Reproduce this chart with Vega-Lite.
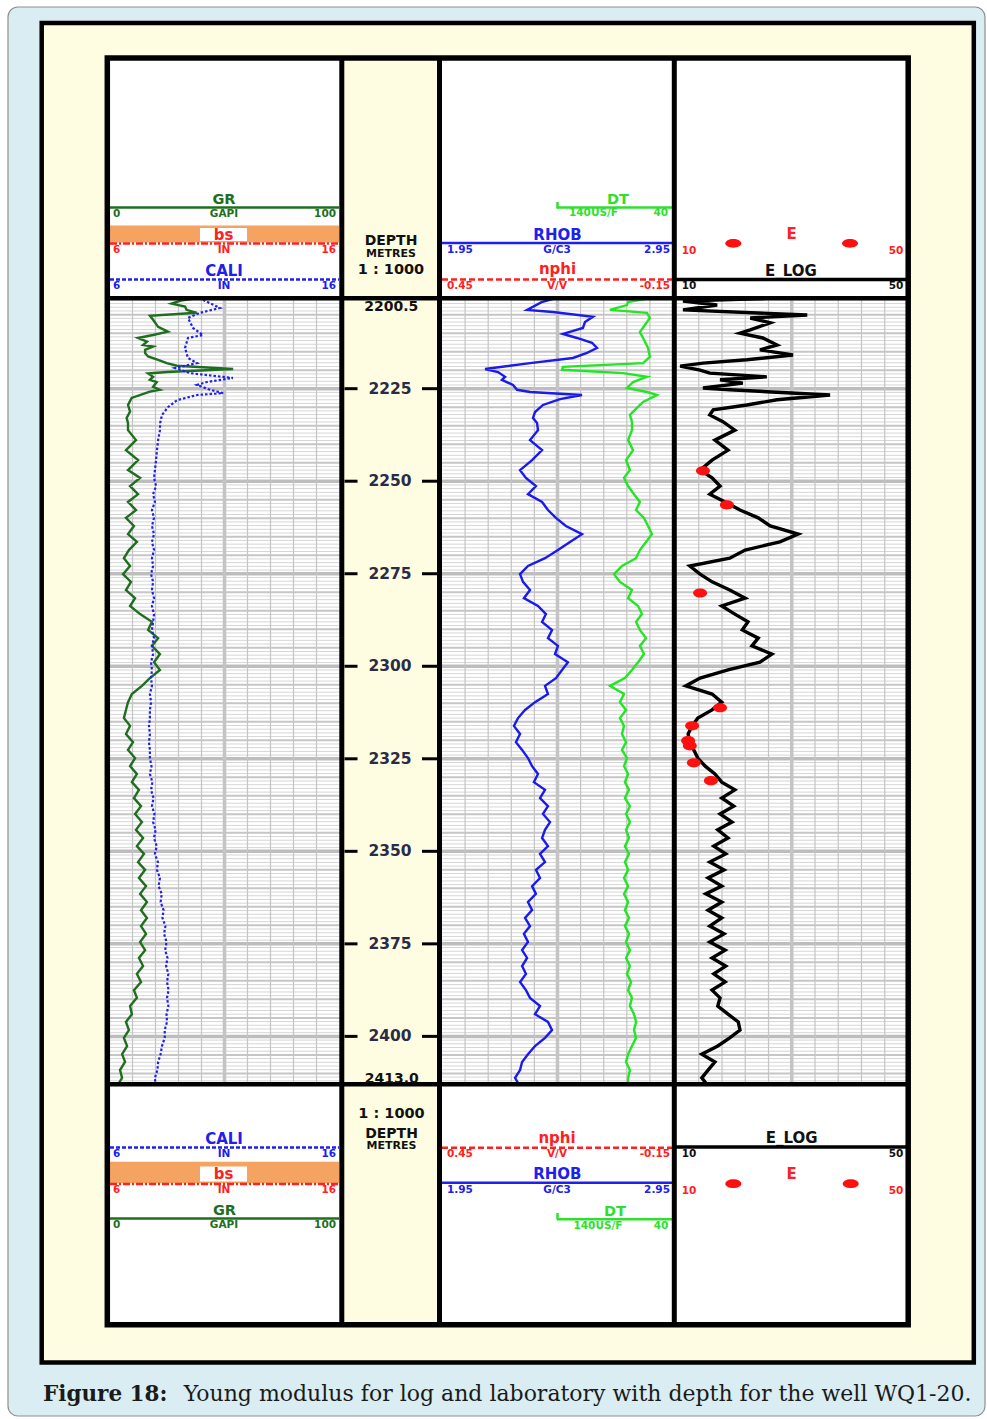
{
"$schema": "https://vega.github.io/schema/vega-lite/v6.json",
"width": 987, "height": 1419, "padding": 0, "autosize": {"type": "none"},
"background": "white",
"config": {
  "view": {"stroke": null},
  "axis": {"disable": true},
  "style": {
    "t13": {"font": "DejaVu Sans", "fontWeight": "bold", "fontSize": 14.5, "align": "center", "baseline": "alphabetic"},
    "s9": {"font": "DejaVu Sans", "fontWeight": "bold", "fontSize": 10.5, "align": "center", "baseline": "alphabetic"}
  }
},
"data": {"values": [{}]},
"datasets": {
  "d1": [2201,2202,2203,2204,2205,2206,2207,2208,2209,2210,2211,2212,2213,2214,2215,2216,2217,2218,2219,2220,2221,2222,2223,2224,2225,2226,2227,2228,2229,2230,2231,2232,2233,2234,2235,2236,2237,2238,2239,2240,2241,2242,2243,2244,2245,2246,2247,2248,2249,2250,2251,2252,2253,2254,2255,2256,2257,2258,2259,2260,2261,2262,2263,2264,2265,2266,2267,2268,2269,2270,2271,2272,2273,2274,2275,2276,2277,2278,2279,2280,2281,2282,2283,2284,2285,2286,2287,2288,2289,2290,2291,2292,2293,2294,2295,2296,2297,2298,2299,2300,2301,2302,2303,2304,2305,2306,2307,2308,2309,2310,2311,2312,2313,2314,2315,2316,2317,2318,2319,2320,2321,2322,2323,2324,2325,2326,2327,2328,2329,2330,2331,2332,2333,2334,2335,2336,2337,2338,2339,2340,2341,2342,2343,2344,2345,2346,2347,2348,2349,2350,2351,2352,2353,2354,2355,2356,2357,2358,2359,2360,2361,2362,2363,2364,2365,2366,2367,2368,2369,2370,2371,2372,2373,2374,2375,2376,2377,2378,2379,2380,2381,2382,2383,2384,2385,2386,2387,2388,2389,2390,2391,2392,2393,2394,2395,2396,2397,2398,2399,2400,2401,2402,2403,2404,2405,2406,2407,2408,2409,2410,2411,2412],
  "k": [1,2,3,4,5,6,7,8,9],
  "ticks": [2225,2250,2275,2300,2325,2350,2375,2400],
  "gr": [
    {"d":2200.6,"v":38},{"d":2201.2,"v":31},{"d":2202.0,"v":27},{"d":2202.8,"v":32.9},{"d":2203.7,"v":33.6},{"d":2204.5,"v":38},{"d":2205.3,"v":17.5},{"d":2206.4,"v":18.9},{"d":2208.3,"v":21.1},{"d":2209.6,"v":25.4},{"d":2210.5,"v":18.9},{"d":2211.3,"v":12.3},{"d":2212.3,"v":16.2},{"d":2213.2,"v":14.5},{"d":2213.6,"v":18.9},{"d":2214.5,"v":15.4},{"d":2215.4,"v":15.4},{"d":2216.3,"v":16.7},{"d":2217.2,"v":21.1},{"d":2218.1,"v":24.9},{"d":2218.8,"v":29.3},{"d":2219.7,"v":54},{"d":2220.5,"v":25},{"d":2220.9,"v":16.7},{"d":2221.8,"v":18.9},{"d":2222.6,"v":17.5},{"d":2223.2,"v":20.5},{"d":2224.5,"v":18.9},{"d":2225.3,"v":21.9},{"d":2225.8,"v":17.5},{"d":2227.5,"v":9.5},{"d":2229.4,"v":7.9},{"d":2231.2,"v":8.8},{"d":2232.9,"v":7.3},{"d":2234.3,"v":7.9},
    {"d":2236.2,"v":7.9},{"d":2238.9,"v":11.4},{"d":2241.6,"v":7.0},{"d":2244.3,"v":12.3},{"d":2247.0,"v":7.9},{"d":2249.1,"v":13.2},{"d":2251.3,"v":8.8},{"d":2253.5,"v":12.3},{"d":2255.6,"v":7.9},{"d":2257.8,"v":11.4},{"d":2259.9,"v":7.0},{"d":2262.1,"v":10.5},{"d":2264.3,"v":7.9},{"d":2266.4,"v":11.8},{"d":2268.6,"v":8.3},{"d":2270.8,"v":6.1},{"d":2272.9,"v":8.8},{"d":2275.1,"v":5.7},{"d":2277.2,"v":9.2},{"d":2279.4,"v":7.0},{"d":2281.6,"v":11.0},{"d":2283.7,"v":8.8},{"d":2285.9,"v":13.2},{"d":2288.0,"v":18.4},{"d":2290.2,"v":16.7},{"d":2292.4,"v":21.1},{"d":2294.5,"v":18.4},{"d":2296.7,"v":21.9},{"d":2298.9,"v":19.3},{"d":2301.0,"v":21.9},{"d":2303.2,"v":17.5},{"d":2305.3,"v":14.0},{"d":2307.5,"v":9.6},{"d":2309.7,"v":7.9},{"d":2311.8,"v":7.0},{"d":2314.0,"v":6.1},{"d":2316.1,"v":8.8},{"d":2318.3,"v":7.0},{"d":2320.5,"v":10.1},{"d":2322.6,"v":7.9},{"d":2324.8,"v":11.0},{"d":2327.0,"v":8.8},{"d":2329.1,"v":11.8},{"d":2331.3,"v":9.6},{"d":2333.4,"v":12.7},{"d":2335.6,"v":10.5},{"d":2337.8,"v":13.6},{"d":2339.9,"v":11.0},{"d":2342.1,"v":14.0},{"d":2344.2,"v":11.4},{"d":2346.4,"v":14.5},{"d":2348.6,"v":11.8},{"d":2350.7,"v":14.9},{"d":2352.9,"v":12.3},{"d":2355.0,"v":15.4},{"d":2357.2,"v":12.7},{"d":2359.4,"v":15.8},{"d":2361.5,"v":13.2},{"d":2363.7,"v":16.2},{"d":2365.9,"v":13.6},{"d":2368.0,"v":16.2},{"d":2370.2,"v":13.6},{"d":2372.3,"v":15.8},{"d":2374.5,"v":13.2},{"d":2376.7,"v":15.4},{"d":2378.8,"v":12.7},{"d":2381.0,"v":14.5},{"d":2383.1,"v":11.8},{"d":2385.3,"v":13.6},{"d":2387.5,"v":10.5},{"d":2389.6,"v":11.8},{"d":2391.8,"v":8.8},{"d":2394.0,"v":9.6},{"d":2396.1,"v":7.0},{"d":2398.3,"v":8.3},{"d":2400.4,"v":6.1},{"d":2402.6,"v":7.5},{"d":2404.8,"v":5.3},{"d":2406.9,"v":6.6},{"d":2409.1,"v":4.4},{"d":2411.2,"v":5.3},{"d":2412.6,"v":3.9}
  ],
  "cali": [
    {"d":2201.0,"v":10.08},{"d":2203.2,"v":10.82},{"d":2204.5,"v":9.95},{"d":2205.9,"v":9.42},{"d":2208.6,"v":9.64},{"d":2210.5,"v":10.08},{"d":2211.3,"v":9.42},{"d":2214.0,"v":9.29},{"d":2216.7,"v":9.42},{"d":2218.1,"v":9.82},{"d":2219.4,"v":8.85},{"d":2220.8,"v":9.51},{"d":2222.1,"v":11.39},{"d":2223.2,"v":10.25},{"d":2224.0,"v":9.82},{"d":2225.3,"v":10.39},{"d":2226.2,"v":10.96},{"d":2226.7,"v":9.82},{"d":2228.1,"v":8.94},{"d":2230.0,"v":8.54},{"d":2232.1,"v":8.28},{"d":2234.3,"v":8.2},
    {"d":2236.2,"v":8.19},{"d":2238.9,"v":8.11},{"d":2241.6,"v":8.06},{"d":2244.3,"v":8.02},{"d":2247.0,"v":7.97},{"d":2249.1,"v":7.93},{"d":2251.3,"v":8.02},{"d":2253.5,"v":7.89},{"d":2255.6,"v":7.97},{"d":2257.8,"v":7.84},{"d":2259.9,"v":7.93},{"d":2262.1,"v":7.84},{"d":2264.3,"v":7.93},{"d":2266.4,"v":7.84},{"d":2268.6,"v":7.93},{"d":2270.8,"v":7.84},{"d":2272.9,"v":7.89},{"d":2275.1,"v":7.80},{"d":2277.2,"v":7.89},{"d":2279.4,"v":7.84},{"d":2281.6,"v":7.93},{"d":2283.7,"v":7.84},{"d":2285.9,"v":7.93},{"d":2288.0,"v":7.89},{"d":2290.2,"v":7.84},{"d":2292.4,"v":7.93},{"d":2294.5,"v":7.84},{"d":2296.7,"v":7.89},{"d":2298.9,"v":7.80},{"d":2301.0,"v":7.84},{"d":2303.2,"v":7.80},{"d":2305.3,"v":7.84},{"d":2307.5,"v":7.75},{"d":2309.7,"v":7.80},{"d":2311.8,"v":7.75},{"d":2314.0,"v":7.75},{"d":2316.1,"v":7.71},{"d":2318.3,"v":7.75},{"d":2320.5,"v":7.71},{"d":2322.6,"v":7.75},{"d":2324.8,"v":7.75},{"d":2327.0,"v":7.82},{"d":2329.1,"v":7.75},{"d":2331.3,"v":7.86},{"d":2333.4,"v":7.80},{"d":2335.6,"v":7.91},{"d":2337.8,"v":7.84},{"d":2339.9,"v":7.95},{"d":2342.1,"v":7.89},{"d":2344.2,"v":8.0},{"d":2346.4,"v":7.93},{"d":2348.6,"v":8.05},{"d":2350.7,"v":7.97},{"d":2352.9,"v":8.1},{"d":2355.0,"v":8.06},{"d":2357.2,"v":8.19},{"d":2359.4,"v":8.13},{"d":2361.5,"v":8.27},{"d":2363.7,"v":8.22},{"d":2365.9,"v":8.35},{"d":2368.0,"v":8.3},{"d":2370.2,"v":8.43},{"d":2372.3,"v":8.37},{"d":2374.5,"v":8.48},{"d":2376.7,"v":8.42},{"d":2378.8,"v":8.52},{"d":2381.0,"v":8.46},{"d":2383.1,"v":8.56},{"d":2385.3,"v":8.5},{"d":2387.5,"v":8.57},{"d":2389.6,"v":8.5},{"d":2391.8,"v":8.56},{"d":2394.0,"v":8.48},{"d":2396.1,"v":8.5},{"d":2398.3,"v":8.4},{"d":2400.4,"v":8.4},{"d":2402.6,"v":8.28},{"d":2404.8,"v":8.22},{"d":2406.9,"v":8.11},{"d":2409.1,"v":8.08},{"d":2411.2,"v":7.97},{"d":2412.6,"v":7.99}
  ],
  "rhob": [
    {"d":2200.6,"v":2.44},{"d":2201.6,"v":2.38},{"d":2203.7,"v":2.316},{"d":2204.3,"v":2.43},{"d":2205.6,"v":2.606},{"d":2207.0,"v":2.571},{"d":2208.6,"v":2.562},{"d":2210.2,"v":2.474},{"d":2211.3,"v":2.536},{"d":2212.6,"v":2.602},{"d":2214.0,"v":2.624},{"d":2215.3,"v":2.58},{"d":2216.7,"v":2.518},{"d":2218.1,"v":2.329},{"d":2219.7,"v":2.131},{"d":2220.5,"v":2.188},{"d":2221.8,"v":2.219},{"d":2222.6,"v":2.205},{"d":2224.0,"v":2.254},{"d":2225.3,"v":2.272},{"d":2225.9,"v":2.329},{"d":2226.7,"v":2.558},{"d":2227.8,"v":2.461},{"d":2229.4,"v":2.386},{"d":2231.3,"v":2.351},{"d":2232.9,"v":2.342},{"d":2234.3,"v":2.36},
    {"d":2236.2,"v":2.364},{"d":2238.9,"v":2.329},{"d":2241.6,"v":2.382},{"d":2244.3,"v":2.338},{"d":2247.0,"v":2.285},{"d":2249.1,"v":2.311},{"d":2251.3,"v":2.355},{"d":2253.5,"v":2.320},{"d":2255.6,"v":2.382},{"d":2257.8,"v":2.408},{"d":2259.9,"v":2.443},{"d":2262.1,"v":2.487},{"d":2264.3,"v":2.558},{"d":2266.4,"v":2.505},{"d":2268.6,"v":2.452},{"d":2270.8,"v":2.395},{"d":2272.9,"v":2.320},{"d":2275.1,"v":2.285},{"d":2277.2,"v":2.298},{"d":2279.4,"v":2.329},{"d":2281.6,"v":2.302},{"d":2283.7,"v":2.364},{"d":2285.9,"v":2.399},{"d":2288.0,"v":2.382},{"d":2290.2,"v":2.426},{"d":2292.4,"v":2.408},{"d":2294.5,"v":2.452},{"d":2296.7,"v":2.439},{"d":2298.9,"v":2.496},{"d":2301.0,"v":2.470},{"d":2303.2,"v":2.443},{"d":2305.3,"v":2.395},{"d":2307.5,"v":2.408},{"d":2309.7,"v":2.351},{"d":2311.8,"v":2.307},{"d":2314.0,"v":2.276},{"d":2316.1,"v":2.258},{"d":2318.3,"v":2.285},{"d":2320.5,"v":2.267},{"d":2322.6,"v":2.294},{"d":2324.8,"v":2.320},{"d":2327.0,"v":2.338},{"d":2329.1,"v":2.364},{"d":2331.3,"v":2.346},{"d":2333.4,"v":2.395},{"d":2335.6,"v":2.373},{"d":2337.8,"v":2.408},{"d":2339.9,"v":2.386},{"d":2342.1,"v":2.417},{"d":2344.2,"v":2.395},{"d":2346.4,"v":2.382},{"d":2348.6,"v":2.408},{"d":2350.7,"v":2.373},{"d":2352.9,"v":2.395},{"d":2355.0,"v":2.355},{"d":2357.2,"v":2.373},{"d":2359.4,"v":2.338},{"d":2361.5,"v":2.355},{"d":2363.7,"v":2.320},{"d":2365.9,"v":2.338},{"d":2368.0,"v":2.307},{"d":2370.2,"v":2.329},{"d":2372.3,"v":2.302},{"d":2374.5,"v":2.320},{"d":2376.7,"v":2.294},{"d":2378.8,"v":2.316},{"d":2381.0,"v":2.294},{"d":2383.1,"v":2.311},{"d":2385.3,"v":2.285},{"d":2387.5,"v":2.311},{"d":2389.6,"v":2.329},{"d":2391.8,"v":2.373},{"d":2394.0,"v":2.351},{"d":2396.1,"v":2.408},{"d":2398.3,"v":2.426},{"d":2400.4,"v":2.395},{"d":2402.6,"v":2.351},{"d":2404.8,"v":2.320},{"d":2406.9,"v":2.294},{"d":2409.1,"v":2.285},{"d":2411.2,"v":2.263},{"d":2412.6,"v":2.276}
  ],
  "dt": [
    {"d":2200.6,"v":50},{"d":2201.6,"v":58.9},{"d":2202.4,"v":59.4},{"d":2203.7,"v":66.9},{"d":2204.5,"v":50.6},{"d":2205.9,"v":49.3},{"d":2207.8,"v":51.5},{"d":2209.7,"v":53.7},{"d":2211.3,"v":52.3},{"d":2214.0,"v":50.1},{"d":2216.4,"v":49.3},{"d":2218.1,"v":52.3},{"d":2219.1,"v":87.6},{"d":2219.9,"v":88.0},{"d":2220.8,"v":61.1},{"d":2221.8,"v":50.6},{"d":2223.2,"v":56.7},{"d":2224.8,"v":59.4},{"d":2225.9,"v":50.6},{"d":2226.7,"v":46.2},{"d":2228.6,"v":52.3},{"d":2230.2,"v":55.0},{"d":2232.1,"v":58.1},{"d":2233.9,"v":57.2},
    {"d":2236.2,"v":57.2},{"d":2238.9,"v":58.9},{"d":2241.6,"v":56.7},{"d":2244.3,"v":59.8},{"d":2247.0,"v":58.1},{"d":2249.1,"v":60.7},{"d":2251.3,"v":58.9},{"d":2253.5,"v":56.3},{"d":2255.6,"v":53.7},{"d":2257.8,"v":55.4},{"d":2259.9,"v":51.9},{"d":2262.1,"v":50.1},{"d":2264.3,"v":48.4},{"d":2266.4,"v":51.0},{"d":2268.6,"v":53.7},{"d":2270.8,"v":55.4},{"d":2272.9,"v":61.6},{"d":2275.1,"v":65.1},{"d":2277.2,"v":62.5},{"d":2279.4,"v":57.2},{"d":2281.6,"v":58.9},{"d":2283.7,"v":54.5},{"d":2285.9,"v":52.8},{"d":2288.0,"v":55.4},{"d":2290.2,"v":53.7},{"d":2292.4,"v":51.0},{"d":2294.5,"v":53.7},{"d":2296.7,"v":51.9},{"d":2298.9,"v":54.5},{"d":2301.0,"v":57.2},{"d":2303.2,"v":60.3},{"d":2305.3,"v":66.9},{"d":2307.5,"v":60.7},{"d":2309.7,"v":62.5},{"d":2311.8,"v":59.8},{"d":2314.0,"v":62.5},{"d":2316.1,"v":60.7},{"d":2318.3,"v":61.6},{"d":2320.5,"v":59.8},{"d":2322.6,"v":61.6},{"d":2324.8,"v":59.4},{"d":2327.0,"v":60.7},{"d":2329.1,"v":58.9},{"d":2331.3,"v":60.3},{"d":2333.4,"v":58.5},{"d":2335.6,"v":60.3},{"d":2337.8,"v":58.1},{"d":2339.9,"v":59.8},{"d":2342.1,"v":58.1},{"d":2344.2,"v":59.8},{"d":2346.4,"v":58.5},{"d":2348.6,"v":60.3},{"d":2350.7,"v":58.5},{"d":2352.9,"v":60.3},{"d":2355.0,"v":58.9},{"d":2357.2,"v":60.7},{"d":2359.4,"v":58.9},{"d":2361.5,"v":60.7},{"d":2363.7,"v":58.9},{"d":2365.9,"v":60.3},{"d":2368.0,"v":58.5},{"d":2370.2,"v":60.3},{"d":2372.3,"v":58.5},{"d":2374.5,"v":59.8},{"d":2376.7,"v":58.1},{"d":2378.8,"v":59.8},{"d":2381.0,"v":58.1},{"d":2383.1,"v":59.4},{"d":2385.3,"v":57.6},{"d":2387.5,"v":58.9},{"d":2389.6,"v":57.2},{"d":2391.8,"v":58.1},{"d":2394.0,"v":56.3},{"d":2396.1,"v":55.4},{"d":2398.3,"v":56.3},{"d":2400.4,"v":55.4},{"d":2402.6,"v":57.2},{"d":2404.8,"v":58.9},{"d":2406.9,"v":59.8},{"d":2409.1,"v":58.1},{"d":2411.2,"v":58.9},{"d":2412.6,"v":58.9}
  ],
  "elog": [
    {"d":2200.6,"v":25.4},{"d":2201.3,"v":10.7},{"d":2202.4,"v":16.7},{"d":2203.7,"v":10.7},{"d":2205.1,"v":32.5},{"d":2205.9,"v":22.5},{"d":2207.2,"v":26.0},{"d":2209.1,"v":22.5},{"d":2210.0,"v":20.7},{"d":2211.3,"v":24.7},{"d":2213.2,"v":27.2},{"d":2214.5,"v":24.2},{"d":2215.9,"v":30.0},{"d":2217.2,"v":21.9},{"d":2218.1,"v":14.2},{"d":2218.9,"v":10.2},{"d":2220.0,"v":13.7},{"d":2220.8,"v":15.4},{"d":2221.8,"v":25.4},{"d":2222.6,"v":17.2},{"d":2223.5,"v":21.2},{"d":2224.8,"v":14.2},{"d":2225.3,"v":18.9},{"d":2226.7,"v":36.5},{"d":2228.0,"v":27.2},{"d":2229.4,"v":21.9},{"d":2230.7,"v":16.0},{"d":2232.1,"v":15.4},{"d":2233.9,"v":17.7},
    {"d":2236.2,"v":19.8},{"d":2238.9,"v":16.3},{"d":2241.6,"v":18.6},{"d":2244.3,"v":15.8},{"d":2247.0,"v":13.7},{"d":2249.1,"v":15.8},{"d":2251.3,"v":17.2},{"d":2253.5,"v":15.4},{"d":2255.6,"v":18.1},{"d":2257.8,"v":20.7},{"d":2259.9,"v":23.9},{"d":2262.1,"v":26.0},{"d":2264.3,"v":30.9},{"d":2266.4,"v":27.7},{"d":2268.6,"v":21.6},{"d":2270.8,"v":18.9},{"d":2272.9,"v":11.9},{"d":2275.1,"v":13.7},{"d":2277.2,"v":15.8},{"d":2279.4,"v":18.9},{"d":2281.6,"v":21.6},{"d":2283.7,"v":17.5},{"d":2285.9,"v":19.8},{"d":2288.0,"v":22.1},{"d":2290.2,"v":21.1},{"d":2292.4,"v":23.9},{"d":2294.5,"v":22.8},{"d":2296.7,"v":26.3},{"d":2298.9,"v":24.2},{"d":2301.0,"v":18.6},{"d":2303.2,"v":13.7},{"d":2305.3,"v":11.2},{"d":2307.5,"v":15.8},{"d":2309.7,"v":17.5},{"d":2311.8,"v":15.8},{"d":2314.0,"v":13.3},{"d":2316.1,"v":12.3},{"d":2318.3,"v":11.6},{"d":2320.5,"v":11.9},{"d":2322.6,"v":12.6},{"d":2324.8,"v":13.3},{"d":2327.0,"v":14.6},{"d":2329.1,"v":16.3},{"d":2331.3,"v":17.5},{"d":2333.4,"v":19.8},{"d":2335.6,"v":17.5},{"d":2337.8,"v":19.6},{"d":2339.9,"v":17.2},{"d":2342.1,"v":19.3},{"d":2344.2,"v":16.8},{"d":2346.4,"v":18.6},{"d":2348.6,"v":16.1},{"d":2350.7,"v":18.2},{"d":2352.9,"v":15.4},{"d":2355.0,"v":17.9},{"d":2357.2,"v":15.1},{"d":2359.4,"v":17.5},{"d":2361.5,"v":14.7},{"d":2363.7,"v":17.5},{"d":2365.9,"v":15.1},{"d":2368.0,"v":17.5},{"d":2370.2,"v":15.4},{"d":2372.3,"v":17.9},{"d":2374.5,"v":15.4},{"d":2376.7,"v":18.1},{"d":2378.8,"v":15.8},{"d":2381.0,"v":18.2},{"d":2383.1,"v":16.1},{"d":2385.3,"v":18.1},{"d":2387.5,"v":15.8},{"d":2389.6,"v":17.2},{"d":2391.8,"v":16.8},{"d":2394.0,"v":18.6},{"d":2396.1,"v":20.4},{"d":2398.3,"v":20.7},{"d":2400.4,"v":18.9},{"d":2402.6,"v":16.8},{"d":2404.8,"v":14.0},{"d":2406.9,"v":16.3},{"d":2409.1,"v":15.1},{"d":2411.2,"v":14.0},{"d":2412.6,"v":14.7}
  ],
  "elab": [
    {"d":2247.2,"v":14.2},{"d":2256.4,"v":18.4},{"d":2280.2,"v":13.7},{"d":2311.2,"v":17.2},{"d":2316.1,"v":12.3},{"d":2320.1,"v":11.6},{"d":2321.5,"v":11.9},{"d":2326.1,"v":12.6},{"d":2330.9,"v":15.6}
  ]
},
"resolve": {"scale": {"x": "independent", "y": "independent"}},
"layer": [
  {"layer": [
    {"mark": {"type": "rect", "fill": "#d9edf3", "stroke": "#8f8f8f", "strokeWidth": 1.2, "cornerRadius": 10},
     "encoding": {"x": {"datum": 8, "type": "quantitative", "scale": {"domain": [0, 987], "range": [0, 987], "nice": false, "zero": false}}, "x2": {"datum": 985},
                  "y": {"datum": 7, "type": "quantitative", "scale": {"domain": [0, 1419], "range": [0, 1419], "nice": false, "zero": false}}, "y2": {"datum": 1416}}},
    {"mark": {"type": "rect", "fill": "#fefde1", "stroke": "#000000", "strokeWidth": 4.5},
     "encoding": {"x": {"datum": 41.7}, "x2": {"datum": 973.8}, "y": {"datum": 23}, "y2": {"datum": 1362.5}}},
    {"mark": {"type": "rect", "fill": "#ffffff"},
     "encoding": {"x": {"datum": 107}, "x2": {"datum": 908}, "y": {"datum": 58}, "y2": {"datum": 1325}}}
  ]},
  {"data": {"name": "d1"},
   "mark": {"type": "rule"},
   "encoding": {
     "x": {"datum": 107, "type": "quantitative", "scale": {"domain": [0, 987], "range": [0, 987], "nice": false, "zero": false}}, "x2": {"datum": 908},
     "y": {"field": "data", "type": "quantitative", "scale": {"domain": [2200.5, 2413], "range": [298, 1084.5], "nice": false, "zero": false}},
     "strokeWidth": {"condition": [{"test": "datum.data % 25 === 0", "value": 3.5}, {"test": "datum.data % 5 === 0", "value": 2}], "value": 1},
     "color": {"condition": [{"test": "datum.data % 25 === 0", "value": "#bdbdbd"}, {"test": "datum.data % 5 === 0", "value": "#c6c6c6"}], "value": "#d6d6d6"}
   }},
  {"data": {"name": "k"}, "mark": {"type": "rule", "color": "#c4c4c4"},
   "encoding": {"x": {"field": "data", "type": "quantitative", "scale": {"domain": [0, 10], "range": [109.5, 339.5], "nice": false, "zero": false}},
     "y": {"datum": 2200.5, "type": "quantitative", "scale": {"domain": [2200.5, 2413], "range": [298, 1084.5], "nice": false, "zero": false}}, "y2": {"datum": 2413},
     "strokeWidth": {"condition": {"test": "datum.data === 5", "value": 3.5}, "value": 1.2}}},
  {"data": {"name": "k"}, "mark": {"type": "rule", "color": "#c4c4c4"},
   "encoding": {"x": {"field": "data", "type": "quantitative", "scale": {"domain": [0, 10], "range": [442, 673], "nice": false, "zero": false}},
     "y": {"datum": 2200.5, "type": "quantitative", "scale": {"domain": [2200.5, 2413], "range": [298, 1084.5], "nice": false, "zero": false}}, "y2": {"datum": 2413},
     "strokeWidth": {"condition": {"test": "datum.data === 5", "value": 3.5}, "value": 1.2}}},
  {"data": {"name": "k"}, "mark": {"type": "rule", "color": "#c4c4c4"},
   "encoding": {"x": {"field": "data", "type": "quantitative", "scale": {"domain": [0, 10], "range": [675.5, 908], "nice": false, "zero": false}},
     "y": {"datum": 2200.5, "type": "quantitative", "scale": {"domain": [2200.5, 2413], "range": [298, 1084.5], "nice": false, "zero": false}}, "y2": {"datum": 2413},
     "strokeWidth": {"condition": {"test": "datum.data === 5", "value": 3.5}, "value": 1.2}}},
  {"layer": [
    {"mark": {"type": "rect", "fill": "#fefde1"},
     "encoding": {"x": {"datum": 341.8, "type": "quantitative", "scale": {"domain": [0, 987], "range": [0, 987], "nice": false, "zero": false}}, "x2": {"datum": 439.5},
                  "y": {"datum": 58, "type": "quantitative", "scale": {"domain": [0, 1419], "range": [0, 1419], "nice": false, "zero": false}}, "y2": {"datum": 1325}}},
    {"mark": {"type": "text", "style": "t13", "text": "GR", "color": "#1f6e1f"}, "encoding": {"x": {"datum": 224}, "y": {"datum": 204}}},
    {"mark": {"type": "rule", "color": "#1f6e1f", "strokeWidth": 2.5}, "encoding": {"x": {"datum": 110}, "x2": {"datum": 339}, "y": {"datum": 207.5}}},
    {"mark": {"type": "text", "style": "s9", "align": "left", "text": "0", "color": "#1f6e1f"}, "encoding": {"x": {"datum": 113}, "y": {"datum": 216.5}}},
    {"mark": {"type": "text", "style": "s9", "text": "GAPI", "color": "#1f6e1f"}, "encoding": {"x": {"datum": 224}, "y": {"datum": 216.5}}},
    {"mark": {"type": "text", "style": "s9", "align": "right", "text": "100", "color": "#1f6e1f"}, "encoding": {"x": {"datum": 336}, "y": {"datum": 216.5}}},
    {"mark": {"type": "rect", "fill": "#f4a361"}, "encoding": {"x": {"datum": 110}, "x2": {"datum": 339}, "y": {"datum": 225.5}, "y2": {"datum": 242.5}}},
    {"mark": {"type": "rect", "fill": "#ffffff"}, "encoding": {"x": {"datum": 200}, "x2": {"datum": 247}, "y": {"datum": 228}, "y2": {"datum": 241}}},
    {"mark": {"type": "text", "style": "t13", "fontSize": 15, "text": "bs", "color": "#ff2020"}, "encoding": {"x": {"datum": 223.5}, "y": {"datum": 239.5}}},
    {"mark": {"type": "rule", "color": "#ff2020", "strokeWidth": 2.5, "strokeDash": [7, 2, 2, 2]}, "encoding": {"x": {"datum": 110}, "x2": {"datum": 339}, "y": {"datum": 243.5}}},
    {"mark": {"type": "text", "style": "s9", "align": "left", "text": "6", "color": "#ff2020"}, "encoding": {"x": {"datum": 113}, "y": {"datum": 253}}},
    {"mark": {"type": "text", "style": "s9", "text": "IN", "color": "#ff2020"}, "encoding": {"x": {"datum": 224}, "y": {"datum": 253}}},
    {"mark": {"type": "text", "style": "s9", "align": "right", "text": "16", "color": "#ff2020"}, "encoding": {"x": {"datum": 336}, "y": {"datum": 253}}},
    {"mark": {"type": "text", "style": "t13", "fontSize": 15, "text": "CALI", "color": "#2020ee"}, "encoding": {"x": {"datum": 224}, "y": {"datum": 275.5}}},
    {"mark": {"type": "rule", "color": "#2020ee", "strokeWidth": 2.5, "strokeDash": [4, 2]}, "encoding": {"x": {"datum": 110}, "x2": {"datum": 339}, "y": {"datum": 279.5}}},
    {"mark": {"type": "text", "style": "s9", "align": "left", "text": "6", "color": "#2020ee"}, "encoding": {"x": {"datum": 113}, "y": {"datum": 289}}},
    {"mark": {"type": "text", "style": "s9", "text": "IN", "color": "#2020ee"}, "encoding": {"x": {"datum": 224}, "y": {"datum": 289}}},
    {"mark": {"type": "text", "style": "s9", "align": "right", "text": "16", "color": "#2020ee"}, "encoding": {"x": {"datum": 336}, "y": {"datum": 289}}},

    {"mark": {"type": "text", "style": "t13", "fontSize": 15, "text": "CALI", "color": "#2020ee"}, "encoding": {"x": {"datum": 224}, "y": {"datum": 1144}}},
    {"mark": {"type": "rule", "color": "#2020ee", "strokeWidth": 2.5, "strokeDash": [4, 2]}, "encoding": {"x": {"datum": 110}, "x2": {"datum": 339}, "y": {"datum": 1147.5}}},
    {"mark": {"type": "text", "style": "s9", "align": "left", "text": "6", "color": "#2020ee"}, "encoding": {"x": {"datum": 113}, "y": {"datum": 1157.3}}},
    {"mark": {"type": "text", "style": "s9", "text": "IN", "color": "#2020ee"}, "encoding": {"x": {"datum": 224}, "y": {"datum": 1157.3}}},
    {"mark": {"type": "text", "style": "s9", "align": "right", "text": "16", "color": "#2020ee"}, "encoding": {"x": {"datum": 336}, "y": {"datum": 1157.3}}},
    {"mark": {"type": "rect", "fill": "#f4a361"}, "encoding": {"x": {"datum": 110}, "x2": {"datum": 339}, "y": {"datum": 1161.7}, "y2": {"datum": 1183.3}}},
    {"mark": {"type": "rect", "fill": "#ffffff"}, "encoding": {"x": {"datum": 200}, "x2": {"datum": 247}, "y": {"datum": 1166.5}, "y2": {"datum": 1181.5}}},
    {"mark": {"type": "text", "style": "t13", "fontSize": 15, "text": "bs", "color": "#ff2020"}, "encoding": {"x": {"datum": 223.5}, "y": {"datum": 1179}}},
    {"mark": {"type": "rule", "color": "#ff2020", "strokeWidth": 2.5, "strokeDash": [7, 2, 2, 2]}, "encoding": {"x": {"datum": 110}, "x2": {"datum": 339}, "y": {"datum": 1184}}},
    {"mark": {"type": "text", "style": "s9", "align": "left", "text": "6", "color": "#ff2020"}, "encoding": {"x": {"datum": 113}, "y": {"datum": 1193}}},
    {"mark": {"type": "text", "style": "s9", "text": "IN", "color": "#ff2020"}, "encoding": {"x": {"datum": 224}, "y": {"datum": 1193}}},
    {"mark": {"type": "text", "style": "s9", "align": "right", "text": "16", "color": "#ff2020"}, "encoding": {"x": {"datum": 336}, "y": {"datum": 1193}}},
    {"mark": {"type": "text", "style": "t13", "text": "GR", "color": "#1f6e1f"}, "encoding": {"x": {"datum": 224.5}, "y": {"datum": 1215}}},
    {"mark": {"type": "rule", "color": "#1f6e1f", "strokeWidth": 2.5}, "encoding": {"x": {"datum": 110}, "x2": {"datum": 339}, "y": {"datum": 1218.5}}},
    {"mark": {"type": "text", "style": "s9", "align": "left", "text": "0", "color": "#1f6e1f"}, "encoding": {"x": {"datum": 113}, "y": {"datum": 1228.3}}},
    {"mark": {"type": "text", "style": "s9", "text": "GAPI", "color": "#1f6e1f"}, "encoding": {"x": {"datum": 224}, "y": {"datum": 1228.3}}},
    {"mark": {"type": "text", "style": "s9", "align": "right", "text": "100", "color": "#1f6e1f"}, "encoding": {"x": {"datum": 336}, "y": {"datum": 1228.3}}},

    {"mark": {"type": "text", "style": "t13", "fontSize": 14, "text": "DEPTH", "color": "#111111"}, "encoding": {"x": {"datum": 391}, "y": {"datum": 245}}},
    {"mark": {"type": "text", "style": "t13", "fontSize": 11, "text": "METRES", "color": "#111111"}, "encoding": {"x": {"datum": 391}, "y": {"datum": 256.5}}},
    {"mark": {"type": "text", "style": "t13", "fontSize": 14.5, "text": "1 : 1000", "color": "#111111"}, "encoding": {"x": {"datum": 391}, "y": {"datum": 273.5}}},
    {"mark": {"type": "text", "style": "t13", "fontSize": 14.5, "text": "1 : 1000", "color": "#111111"}, "encoding": {"x": {"datum": 391.5}, "y": {"datum": 1118.3}}},
    {"mark": {"type": "text", "style": "t13", "fontSize": 14, "text": "DEPTH", "color": "#111111"}, "encoding": {"x": {"datum": 391.5}, "y": {"datum": 1138.3}}},
    {"mark": {"type": "text", "style": "t13", "fontSize": 11, "text": "METRES", "color": "#111111"}, "encoding": {"x": {"datum": 391.5}, "y": {"datum": 1149.3}}},

    {"mark": {"type": "text", "style": "t13", "text": "DT", "color": "#2ee02e"}, "encoding": {"x": {"datum": 618}, "y": {"datum": 203.5}}},
    {"mark": {"type": "rule", "color": "#2ee02e", "strokeWidth": 2.5}, "encoding": {"x": {"datum": 557}, "x2": {"datum": 672}, "y": {"datum": 207.5}}},
    {"mark": {"type": "rule", "color": "#2ee02e", "strokeWidth": 2.5}, "encoding": {"x": {"datum": 557.5}, "y": {"datum": 202}, "y2": {"datum": 208.5}}},
    {"mark": {"type": "text", "style": "s9", "text": "140US/F", "color": "#2ee02e"}, "encoding": {"x": {"datum": 593.5}, "y": {"datum": 216}}},
    {"mark": {"type": "text", "style": "s9", "align": "right", "text": "40", "color": "#2ee02e"}, "encoding": {"x": {"datum": 668}, "y": {"datum": 216}}},
    {"mark": {"type": "text", "style": "t13", "fontSize": 15, "text": "RHOB", "color": "#2020ee"}, "encoding": {"x": {"datum": 557.5}, "y": {"datum": 240}}},
    {"mark": {"type": "rule", "color": "#2020ee", "strokeWidth": 2.5}, "encoding": {"x": {"datum": 442}, "x2": {"datum": 672}, "y": {"datum": 243}}},
    {"mark": {"type": "text", "style": "s9", "align": "left", "text": "1.95", "color": "#2020ee"}, "encoding": {"x": {"datum": 447}, "y": {"datum": 252.7}}},
    {"mark": {"type": "text", "style": "s9", "text": "G/C3", "color": "#2020ee"}, "encoding": {"x": {"datum": 557}, "y": {"datum": 252.7}}},
    {"mark": {"type": "text", "style": "s9", "align": "right", "text": "2.95", "color": "#2020ee"}, "encoding": {"x": {"datum": 670}, "y": {"datum": 252.7}}},
    {"mark": {"type": "text", "style": "t13", "fontSize": 15, "text": "nphi", "color": "#ff2020"}, "encoding": {"x": {"datum": 557.5}, "y": {"datum": 274.3}}},
    {"mark": {"type": "rule", "color": "#ff2020", "strokeWidth": 2.5, "strokeDash": [6, 3]}, "encoding": {"x": {"datum": 442}, "x2": {"datum": 672}, "y": {"datum": 279.5}}},
    {"mark": {"type": "text", "style": "s9", "align": "left", "text": "0.45", "color": "#ff2020"}, "encoding": {"x": {"datum": 447}, "y": {"datum": 289.3}}},
    {"mark": {"type": "text", "style": "s9", "text": "V/V", "color": "#ff2020"}, "encoding": {"x": {"datum": 557}, "y": {"datum": 289.3}}},
    {"mark": {"type": "text", "style": "s9", "align": "right", "text": "-0.15", "color": "#ff2020"}, "encoding": {"x": {"datum": 670}, "y": {"datum": 289.3}}},

    {"mark": {"type": "text", "style": "t13", "fontSize": 15, "text": "nphi", "color": "#ff2020"}, "encoding": {"x": {"datum": 557}, "y": {"datum": 1143.3}}},
    {"mark": {"type": "rule", "color": "#ff2020", "strokeWidth": 2.5, "strokeDash": [6, 3]}, "encoding": {"x": {"datum": 442}, "x2": {"datum": 672}, "y": {"datum": 1147.7}}},
    {"mark": {"type": "text", "style": "s9", "align": "left", "text": "0.45", "color": "#ff2020"}, "encoding": {"x": {"datum": 447}, "y": {"datum": 1157.3}}},
    {"mark": {"type": "text", "style": "s9", "text": "V/V", "color": "#ff2020"}, "encoding": {"x": {"datum": 557}, "y": {"datum": 1157.3}}},
    {"mark": {"type": "text", "style": "s9", "align": "right", "text": "-0.15", "color": "#ff2020"}, "encoding": {"x": {"datum": 670}, "y": {"datum": 1157.3}}},
    {"mark": {"type": "text", "style": "t13", "fontSize": 15, "text": "RHOB", "color": "#2020ee"}, "encoding": {"x": {"datum": 557.3}, "y": {"datum": 1179.3}}},
    {"mark": {"type": "rule", "color": "#2020ee", "strokeWidth": 2.5}, "encoding": {"x": {"datum": 442}, "x2": {"datum": 672}, "y": {"datum": 1182.7}}},
    {"mark": {"type": "text", "style": "s9", "align": "left", "text": "1.95", "color": "#2020ee"}, "encoding": {"x": {"datum": 447}, "y": {"datum": 1193.3}}},
    {"mark": {"type": "text", "style": "s9", "text": "G/C3", "color": "#2020ee"}, "encoding": {"x": {"datum": 557}, "y": {"datum": 1193.3}}},
    {"mark": {"type": "text", "style": "s9", "align": "right", "text": "2.95", "color": "#2020ee"}, "encoding": {"x": {"datum": 670}, "y": {"datum": 1193.3}}},
    {"mark": {"type": "text", "style": "t13", "text": "DT", "color": "#2ee02e"}, "encoding": {"x": {"datum": 615}, "y": {"datum": 1216}}},
    {"mark": {"type": "rule", "color": "#2ee02e", "strokeWidth": 2.5}, "encoding": {"x": {"datum": 557}, "x2": {"datum": 672}, "y": {"datum": 1219.3}}},
    {"mark": {"type": "rule", "color": "#2ee02e", "strokeWidth": 2.5}, "encoding": {"x": {"datum": 557.5}, "y": {"datum": 1213}, "y2": {"datum": 1219.5}}},
    {"mark": {"type": "text", "style": "s9", "text": "140US/F", "color": "#2ee02e"}, "encoding": {"x": {"datum": 598}, "y": {"datum": 1229}}},
    {"mark": {"type": "text", "style": "s9", "align": "right", "text": "40", "color": "#2ee02e"}, "encoding": {"x": {"datum": 668.3}, "y": {"datum": 1229}}},

    {"mark": {"type": "text", "style": "t13", "fontSize": 15, "text": "E", "color": "#ff2020"}, "encoding": {"x": {"datum": 791.5}, "y": {"datum": 238.7}}},
    {"mark": {"type": "point", "filled": true, "color": "#ff1010", "opacity": 1, "size": 256, "shape": "M-1,0A1,0.55,0,1,1,1,0A1,0.55,0,1,1,-1,0Z"}, "encoding": {"x": {"datum": 733.3}, "y": {"datum": 243.3}}},
    {"mark": {"type": "point", "filled": true, "color": "#ff1010", "opacity": 1, "size": 256, "shape": "M-1,0A1,0.55,0,1,1,1,0A1,0.55,0,1,1,-1,0Z"}, "encoding": {"x": {"datum": 850}, "y": {"datum": 243.3}}},
    {"mark": {"type": "text", "style": "s9", "align": "left", "text": "10", "color": "#ff2020"}, "encoding": {"x": {"datum": 681.7}, "y": {"datum": 254}}},
    {"mark": {"type": "text", "style": "s9", "align": "right", "text": "50", "color": "#ff2020"}, "encoding": {"x": {"datum": 903.3}, "y": {"datum": 254}}},
    {"mark": {"type": "text", "style": "t13", "fontSize": 15, "text": "E_LOG", "color": "#111111"}, "encoding": {"x": {"datum": 791}, "y": {"datum": 275.7}}},
    {"mark": {"type": "text", "style": "s9", "align": "left", "text": "10", "color": "#111111"}, "encoding": {"x": {"datum": 681.7}, "y": {"datum": 289.3}}},
    {"mark": {"type": "text", "style": "s9", "align": "right", "text": "50", "color": "#111111"}, "encoding": {"x": {"datum": 903.3}, "y": {"datum": 289.3}}},

    {"mark": {"type": "text", "style": "t13", "fontSize": 15, "text": "E_LOG", "color": "#111111"}, "encoding": {"x": {"datum": 791.7}, "y": {"datum": 1143.3}}},
    {"mark": {"type": "text", "style": "s9", "align": "left", "text": "10", "color": "#111111"}, "encoding": {"x": {"datum": 681.7}, "y": {"datum": 1157.3}}},
    {"mark": {"type": "text", "style": "s9", "align": "right", "text": "50", "color": "#111111"}, "encoding": {"x": {"datum": 903.3}, "y": {"datum": 1157.3}}},
    {"mark": {"type": "text", "style": "t13", "fontSize": 15, "text": "E", "color": "#ff2020"}, "encoding": {"x": {"datum": 791.7}, "y": {"datum": 1179}}},
    {"mark": {"type": "point", "filled": true, "color": "#ff1010", "opacity": 1, "size": 256, "shape": "M-1,0A1,0.55,0,1,1,1,0A1,0.55,0,1,1,-1,0Z"}, "encoding": {"x": {"datum": 733.3}, "y": {"datum": 1183.7}}},
    {"mark": {"type": "point", "filled": true, "color": "#ff1010", "opacity": 1, "size": 256, "shape": "M-1,0A1,0.55,0,1,1,1,0A1,0.55,0,1,1,-1,0Z"}, "encoding": {"x": {"datum": 850.7}, "y": {"datum": 1183.7}}},
    {"mark": {"type": "text", "style": "s9", "align": "left", "text": "10", "color": "#ff2020"}, "encoding": {"x": {"datum": 681.7}, "y": {"datum": 1194}}},
    {"mark": {"type": "text", "style": "s9", "align": "right", "text": "50", "color": "#ff2020"}, "encoding": {"x": {"datum": 903.3}, "y": {"datum": 1194}}},

    {"mark": {"type": "text", "font": "DejaVu Serif", "fontWeight": "bold", "fontSize": 21.5, "align": "left", "baseline": "alphabetic", "text": "Figure 18:", "color": "#1a1a1a"}, "encoding": {"x": {"datum": 43}, "y": {"datum": 1401}}},
    {"mark": {"type": "text", "font": "DejaVu Serif", "fontSize": 22, "align": "right", "baseline": "alphabetic", "text": "Young modulus for log and laboratory with depth for the well WQ1-20.", "color": "#1a1a1a"}, "encoding": {"x": {"datum": 971.5}, "y": {"datum": 1401}}}
  ]},
  {"data": {"name": "gr"}, "mark": {"type": "line", "color": "#1f6e1f", "strokeWidth": 2.4},
   "encoding": {"x": {"field": "v", "type": "quantitative", "scale": {"domain": [0, 100], "range": [110, 338], "nice": false, "zero": false}},
                "y": {"field": "d", "type": "quantitative", "scale": {"domain": [2200.5, 2413], "range": [298, 1084.5], "nice": false, "zero": false}},
                "order": {"field": "d", "type": "quantitative"}}},
  {"data": {"name": "cali"}, "mark": {"type": "line", "color": "#2020ee", "strokeWidth": 2.2, "strokeDash": [2.5, 2]},
   "encoding": {"x": {"field": "v", "type": "quantitative", "scale": {"domain": [6, 16], "range": [110, 338], "nice": false, "zero": false}},
                "y": {"field": "d", "type": "quantitative", "scale": {"domain": [2200.5, 2413], "range": [298, 1084.5], "nice": false, "zero": false}},
                "order": {"field": "d", "type": "quantitative"}}},
  {"data": {"name": "rhob"}, "mark": {"type": "line", "color": "#1a1aee", "strokeWidth": 2.4},
   "encoding": {"x": {"field": "v", "type": "quantitative", "scale": {"domain": [1.95, 2.95], "range": [444, 671], "nice": false, "zero": false}},
                "y": {"field": "d", "type": "quantitative", "scale": {"domain": [2200.5, 2413], "range": [298, 1084.5], "nice": false, "zero": false}},
                "order": {"field": "d", "type": "quantitative"}}},
  {"data": {"name": "dt"}, "mark": {"type": "line", "color": "#22e622", "strokeWidth": 2.4},
   "encoding": {"x": {"field": "v", "type": "quantitative", "scale": {"domain": [140, 40], "range": [444, 671], "nice": false, "zero": false}},
                "y": {"field": "d", "type": "quantitative", "scale": {"domain": [2200.5, 2413], "range": [298, 1084.5], "nice": false, "zero": false}},
                "order": {"field": "d", "type": "quantitative"}}},
  {"data": {"name": "elog"}, "mark": {"type": "line", "color": "#000000", "strokeWidth": 3.4},
   "encoding": {"x": {"field": "v", "type": "quantitative", "scale": {"domain": [10, 50], "range": [679, 907], "nice": false, "zero": false}},
                "y": {"field": "d", "type": "quantitative", "scale": {"domain": [2200.5, 2413], "range": [298, 1084.5], "nice": false, "zero": false}},
                "order": {"field": "d", "type": "quantitative"}}},
  {"data": {"name": "elab"}, "mark": {"type": "point", "filled": true, "color": "#ff1010", "opacity": 1, "size": 196, "shape": "M-1,0A1,0.65,0,1,1,1,0A1,0.65,0,1,1,-1,0Z"},
   "encoding": {"x": {"field": "v", "type": "quantitative", "scale": {"domain": [10, 50], "range": [679, 907], "nice": false, "zero": false}},
                "y": {"field": "d", "type": "quantitative", "scale": {"domain": [2200.5, 2413], "range": [298, 1084.5], "nice": false, "zero": false}}}},
  {"layer": [
    {"mark": {"type": "rect", "filled": false, "stroke": "#000000", "strokeWidth": 5.5},
     "encoding": {"x": {"datum": 107.3, "type": "quantitative", "scale": {"domain": [0, 987], "range": [0, 987], "nice": false, "zero": false}}, "x2": {"datum": 908.2},
                  "y": {"datum": 58, "type": "quantitative", "scale": {"domain": [0, 1419], "range": [0, 1419], "nice": false, "zero": false}}, "y2": {"datum": 1324.8}}},
    {"mark": {"type": "rule", "color": "#000000", "strokeWidth": 5}, "encoding": {"x": {"datum": 341.8}, "y": {"datum": 58}, "y2": {"datum": 1325}}},
    {"mark": {"type": "rule", "color": "#000000", "strokeWidth": 5}, "encoding": {"x": {"datum": 439.5}, "y": {"datum": 58}, "y2": {"datum": 1325}}},
    {"mark": {"type": "rule", "color": "#000000", "strokeWidth": 5}, "encoding": {"x": {"datum": 674.3}, "y": {"datum": 58}, "y2": {"datum": 1325}}},
    {"mark": {"type": "rule", "color": "#000000", "strokeWidth": 4.5}, "encoding": {"x": {"datum": 107}, "x2": {"datum": 908}, "y": {"datum": 298.3}}},
    {"mark": {"type": "rule", "color": "#000000", "strokeWidth": 4.5}, "encoding": {"x": {"datum": 107}, "x2": {"datum": 908}, "y": {"datum": 1084.3}}},
    {"mark": {"type": "rule", "color": "#000000", "strokeWidth": 3.5}, "encoding": {"x": {"datum": 674}, "x2": {"datum": 908}, "y": {"datum": 279.5}}},
    {"mark": {"type": "rule", "color": "#000000", "strokeWidth": 3.5}, "encoding": {"x": {"datum": 674}, "x2": {"datum": 908}, "y": {"datum": 1147}}},
    {"mark": {"type": "text", "style": "t13", "fontSize": 14, "text": "2200.5", "color": "#111111"}, "encoding": {"x": {"datum": 391.3}, "y": {"datum": 310.7}}},
    {"mark": {"type": "text", "style": "t13", "fontSize": 14, "text": "2413.0", "color": "#111111"}, "encoding": {"x": {"datum": 391.7}, "y": {"datum": 1082.7}}}
  ]},
  {"data": {"name": "ticks"}, "mark": {"type": "rule", "color": "#000000", "strokeWidth": 3},
   "encoding": {"x": {"datum": 344.5, "type": "quantitative", "scale": {"domain": [0, 987], "range": [0, 987], "nice": false, "zero": false}}, "x2": {"datum": 357.5},
                "y": {"field": "data", "type": "quantitative", "scale": {"domain": [2200.5, 2413], "range": [298, 1084.5], "nice": false, "zero": false}}}},
  {"data": {"name": "ticks"}, "mark": {"type": "rule", "color": "#000000", "strokeWidth": 3},
   "encoding": {"x": {"datum": 422, "type": "quantitative", "scale": {"domain": [0, 987], "range": [0, 987], "nice": false, "zero": false}}, "x2": {"datum": 437},
                "y": {"field": "data", "type": "quantitative", "scale": {"domain": [2200.5, 2413], "range": [298, 1084.5], "nice": false, "zero": false}}}},
  {"data": {"name": "ticks"}, "mark": {"type": "text", "font": "DejaVu Sans", "fontWeight": "bold", "fontSize": 15.5, "align": "center", "baseline": "middle", "color": "#2b2b45"},
   "encoding": {"x": {"datum": 390, "type": "quantitative", "scale": {"domain": [0, 987], "range": [0, 987], "nice": false, "zero": false}},
                "y": {"field": "data", "type": "quantitative", "scale": {"domain": [2200.5, 2413], "range": [298, 1084.5], "nice": false, "zero": false}},
                "text": {"field": "data", "type": "nominal"}}}
]
}
